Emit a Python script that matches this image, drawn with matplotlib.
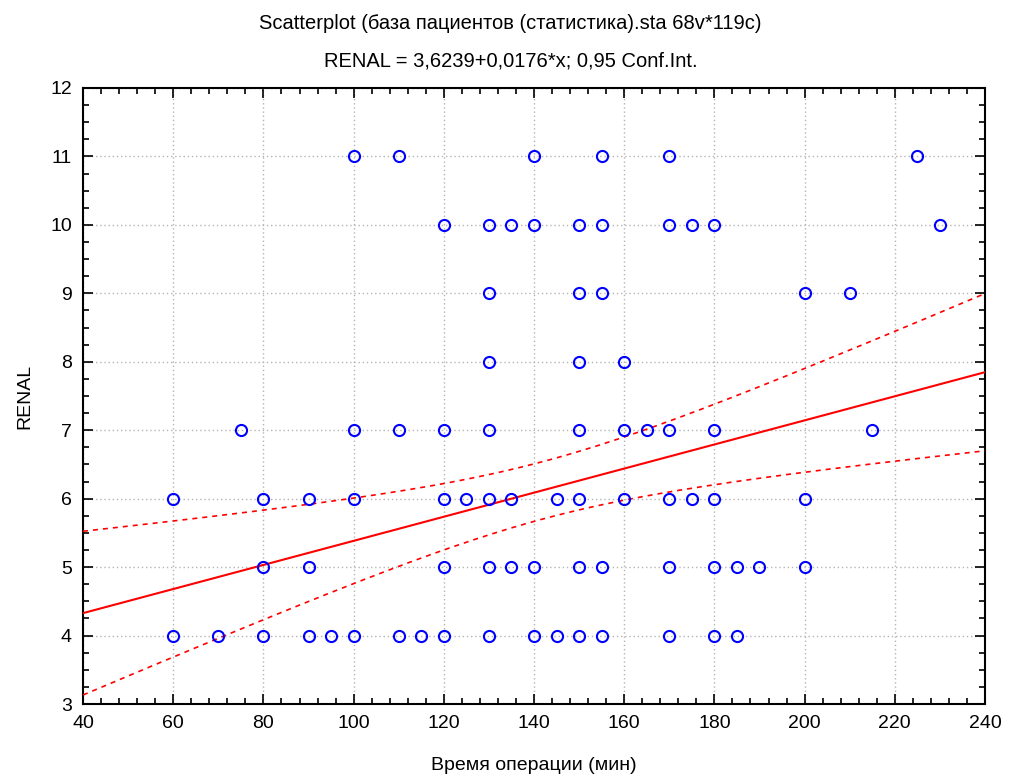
import numpy as np
import matplotlib
matplotlib.use("Agg")
import matplotlib.pyplot as plt
from matplotlib.ticker import MultipleLocator
from matplotlib import font_manager

# data (operation time, RENAL score)
renal_levels = [11, 10, 9, 8, 7, 6, 5, 4]
times_11 = [100, 110, 140, 155, 170, 225]
times_10 = [120, 130, 135, 140, 150, 155, 170, 175, 180, 230]
times_9 = [130, 150, 155, 200, 210]
times_8 = [130, 150, 160]
times_7 = [75, 100, 110, 120, 130, 150, 160, 165, 170, 180, 215]
times_6 = [60, 80, 90, 100, 120, 125, 130, 135, 145, 150, 160, 170, 175, 180, 200]
times_5 = [80, 90, 120, 130, 135, 140, 150, 155, 170, 180, 185, 190, 200]
times_4 = [60, 70, 80, 90, 95, 100, 110, 115, 120, 130, 140, 145, 150, 155, 170, 180, 185]

title1 = "Scatterplot (база пациентов (статистика).sta 68v*119c)"
title2 = "RENAL = 3,6239+0,0176*x; 0,95 Conf.Int."
intercept = 3.6239
slope = 0.0176
n_cases = 119  # from the title; many points overlap

groups = [times_11, times_10, times_9, times_8, times_7, times_6, times_5, times_4]
x = np.concatenate([np.array(g, float) for g in groups])
y = np.concatenate([np.full(len(g), lv, float) for g, lv in zip(groups, renal_levels)])

names = {f.name for f in font_manager.fontManager.ttflist}
fam = "Liberation Sans Narrow" if "Liberation Sans Narrow" in names else "Liberation Sans"
plt.rcParams["font.family"] = [fam, "DejaVu Sans"]

fig = plt.figure(figsize=(10.09, 7.78), dpi=100)
ax = fig.add_axes([0.0823, 0.0951, 0.8939, 0.7918])

# regression line + 95% confidence band
n = len(x)
fit = intercept + slope * x
s = np.sqrt(np.sum((y - fit) ** 2) / (n - 2))
xbar = x.mean()
sxx = np.sum((x - xbar) ** 2) * n_cases / n
xx = np.linspace(40, 240, 200)
yy = intercept + slope * xx
half = 1.98 * s * np.sqrt(1.0 / n_cases + (xx - xbar) ** 2 / sxx)

ax.grid(True, color="#b4b4b4", linestyle=(0, (1, 2)), linewidth=1.0)
ax.set_axisbelow(True)
ax.plot(xx, yy, color="red", lw=1.5, zorder=3)
ax.plot(xx, yy + half, color="red", lw=1.2, ls=(0, (3, 3)), zorder=3)
ax.plot(xx, yy - half, color="red", lw=1.2, ls=(0, (3, 3)), zorder=3)
ax.plot(x, y, "o", mfc="none", mec="blue", ms=8, mew=1.5, zorder=4)

ax.set_xlim(40, 240)
ax.set_ylim(3, 12)
ax.xaxis.set_major_locator(MultipleLocator(20))
ax.xaxis.set_minor_locator(MultipleLocator(4))
ax.yaxis.set_major_locator(MultipleLocator(1))
ax.yaxis.set_minor_locator(MultipleLocator(0.25))
ax.tick_params(which="both", direction="in", top=True, right=True, labelsize=14, width=1.2)
ax.tick_params(which="major", length=7, pad=8)
ax.tick_params(which="minor", length=4)
for sp in ax.spines.values():
    sp.set_linewidth(1.5)

ax.set_xlabel("Время операции (мин)", fontsize=14, labelpad=18)
ax.set_ylabel("RENAL", fontsize=14, labelpad=12)
fig.text(0.506, 0.970, title1, ha="center", va="center", fontsize=14.5)
fig.text(0.506, 0.921, title2, ha="center", va="center", fontsize=14.5)

fig.savefig("out.png", dpi=100, facecolor="white")
